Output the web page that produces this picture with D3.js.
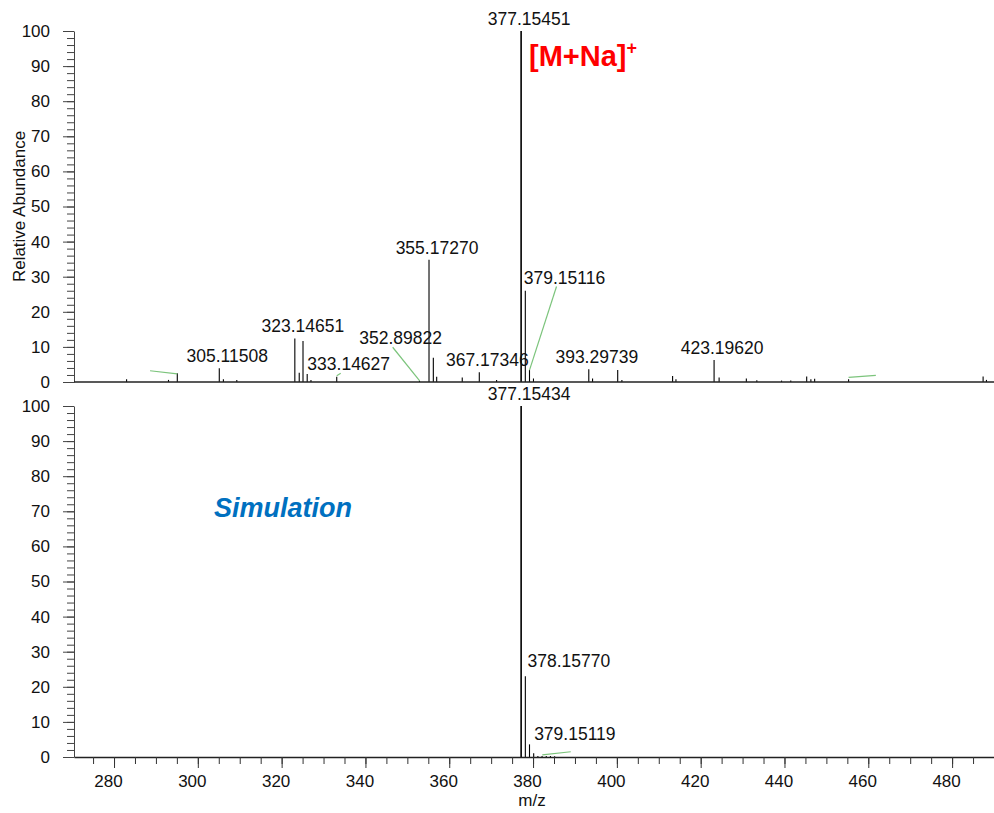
<!DOCTYPE html>
<html>
<head>
<meta charset="utf-8">
<script src="https://cdn.jsdelivr.net/npm/d3@7"></script>
<style>
  body { margin: 0; background: #fff; }
  svg text { font-family: "Liberation Sans", Arial, sans-serif; }
</style>
</head>
<body>
<div id="chart"></div>
<script>
// measured spectrum (top) - m/z and relative abundance
const topMz = [283.0, 293.0, 295.1, 305.12, 306.1, 309.3, 323.15, 324.2, 325.1, 326.1, 327.0,
  333.15, 352.9, 355.17, 356.2, 357.0, 363.1, 367.17, 371.3, 377.15, 378.15, 379.15, 380.1,
  393.3, 394.2, 400.2, 401.2, 413.3, 414.1, 423.2, 424.4, 430.9, 433.4, 439.3, 441.5,
  445.3, 446.3, 447.2, 455.3, 487.4, 488.2];
const topAb = [0.8, 0.6, 2.5, 3.9, 0.8, 0.6, 12.4, 2.6, 11.7, 2.3, 0.6,
  1.5, 0.4, 34.8, 6.9, 1.5, 1.3, 2.8, 0.6, 100, 26, 3.4, 1.0,
  3.6, 1.0, 3.4, 0.6, 1.7, 0.8, 6.3, 1.3, 1.0, 0.5, 0.4, 0.4,
  1.6, 0.8, 0.9, 0.8, 1.6, 0.6];

// simulated isotope pattern (bottom)
const simMz = [377.154, 378.158, 379.151, 380.15, 381.15, 382.15, 383.15, 384.15, 385.15];
const simAb = [100, 23, 3.6, 1.1, 0.3, 0.3, 0.25, 0.25, 0.2];

// peak labels: text, peak m/z, peak abundance, label m/z, label abundance, leader line
const topLabels = [
  ["377.15451", 377.15, 100, null, null, false],
  ["355.17270", 355.17, 34.8, null, null, false],
  ["323.14651", 323.15, 12.4, null, null, false],
  ["305.11508", 305.12, 3.9, null, null, false],
  ["367.17346", 367.17, 2.8, null, null, false],
  ["393.29739", 393.3, 3.6, null, null, false],
  ["423.19620", 423.2, 6.3, null, null, false],
  ["333.14627", 333.15, 1.8, 334.1, 2.5, true],
  ["352.89822", 352.9, 0.4, 346.5, 9.9, true],
  ["379.15116", 379.15, 3.4, 385.6, 27.2, true],
  ["", 295.1, 2.3, 288.6, 3.2, true],
  ["", 455.3, 1.3, 461.8, 1.9, true]
];
const simLabels = [
  ["377.15434", 377.154, 100, null, null, false],
  ["378.15770", 378.158, 23, 386.64, 24.9, false],
  ["379.15119", 379.151, 3.6, 388.07, 4.0, false],
  ["", 382.2, 0.6, 389.0, 1.5, true]
];

const yTicks = d3.range(0, 101, 10);
const yMinor = d3.range(0, 101, 2);
const xTicks = d3.range(280, 481, 20);
const xMinor = d3.range(275, 491, 5);

const W = 994, H = 813;
const svg = d3.select("#chart").append("svg")
  .attr("width", W).attr("height", H);

const x = d3.scaleLinear().domain([270.45, 490]).range([74, 994]);
const yTop = d3.scaleLinear().domain([0, 100]).range([382, 31]);
const yBot = d3.scaleLinear().domain([0, 100]).range([757, 406]);

function drawYAxis(y) {
  svg.append("g")
    .attr("transform", "translate(74,0)")
    .call(d3.axisLeft(y).tickValues(yMinor).tickSize(7).tickSizeOuter(0).tickFormat(""))
    .call(g => g.selectAll("line").attr("stroke", "#444"))
    .call(g => g.select(".domain").attr("stroke", "#444"));
  svg.append("g")
    .attr("transform", "translate(74,0)")
    .call(d3.axisLeft(y).tickValues(yTicks).tickSize(11).tickPadding(13).tickSizeOuter(0))
    .call(g => g.select(".domain").remove())
    .call(g => g.selectAll("line").attr("stroke", "#444"))
    .call(g => g.selectAll("text").attr("font-size", "17px").attr("fill", "#111")
      .style("font-family", "'Liberation Sans', Arial, sans-serif"));
}

function drawPeaks(mz, ab, y) {
  svg.append("g").selectAll("line")
    .data(mz)
    .enter()
    .append("line")
    .attr("x1", d => x(d)).attr("x2", d => x(d))
    .attr("y1", y(0))
    .attr("y2", (d, i) => y(ab[i]))
    .attr("stroke", "#000")
    .attr("stroke-width", (d, i) => ab[i] >= 99 ? 1.6 : 1.1);
}

function drawLabels(labels, y) {
  const g = svg.append("g");
  labels.forEach(l => {
    const [text, pm, pa, lm, la, leader] = l;
    if (leader) {
      g.append("line")
        .attr("x1", x(pm)).attr("y1", y(pa))
        .attr("x2", x(lm)).attr("y2", y(la))
        .attr("stroke", "#7cc47c").attr("stroke-width", 1.2);
    }
    if (!text) return;
    const ax = lm == null ? x(pm) : x(lm);
    const ay = lm == null ? y(pa) - 6 : y(la) - 3;
    g.append("text")
      .attr("x", ax + 8).attr("y", ay)
      .attr("text-anchor", "middle")
      .attr("font-size", "17.5px")
      .attr("fill", "#111")
      .text(text);
  });
}

// top panel
drawYAxis(yTop);
drawPeaks(topMz, topAb, yTop);
svg.append("line")
  .attr("x1", 74).attr("x2", 994)
  .attr("y1", yTop(0)).attr("y2", yTop(0))
  .attr("stroke", "#222").attr("stroke-width", 1.6);
drawLabels(topLabels, yTop);

svg.append("text")
  .attr("transform", `translate(25, ${(yTop(0) + yTop(100)) / 2}) rotate(-90)`)
  .attr("text-anchor", "middle")
  .attr("font-size", "17px")
  .attr("fill", "#111")
  .text("Relative Abundance");

const ion = svg.append("text")
  .attr("x", 529).attr("y", 66)
  .attr("font-size", "29px")
  .attr("font-weight", "bold")
  .attr("fill", "#ff0000");
ion.append("tspan").text("[M+Na]");
ion.append("tspan").attr("dy", -12).attr("font-size", "18px").text("+");

// bottom panel
drawYAxis(yBot);
drawPeaks(simMz, simAb, yBot);
drawLabels(simLabels, yBot);

svg.append("g")
  .attr("transform", `translate(0,${yBot(0)})`)
  .call(d3.axisBottom(x).tickValues(xMinor).tickSize(7).tickSizeOuter(0).tickFormat(""))
  .call(g => g.selectAll("line").attr("stroke", "#333"))
  .call(g => g.select(".domain").attr("stroke", "#222").attr("stroke-width", 1.3));
svg.append("g")
  .attr("transform", `translate(0,${yBot(0)})`)
  .call(d3.axisBottom(x).tickValues(xTicks).tickSize(11).tickPadding(7).tickSizeOuter(0))
  .call(g => g.select(".domain").remove())
  .call(g => g.selectAll("line").attr("stroke", "#333"))
  .call(g => g.selectAll("text").attr("font-size", "17px").attr("fill", "#111").attr("dx", -6)
    .style("font-family", "'Liberation Sans', Arial, sans-serif"));

svg.append("text")
  .attr("x", 532).attr("y", 806)
  .attr("text-anchor", "middle")
  .attr("font-size", "17px")
  .attr("fill", "#111")
  .text("m/z");

svg.append("text")
  .attr("x", 283).attr("y", 517)
  .attr("text-anchor", "middle")
  .attr("font-size", "27px")
  .attr("font-weight", "bold")
  .attr("font-style", "italic")
  .attr("fill", "#0070c0")
  .text("Simulation");
</script>
</body>
</html>
